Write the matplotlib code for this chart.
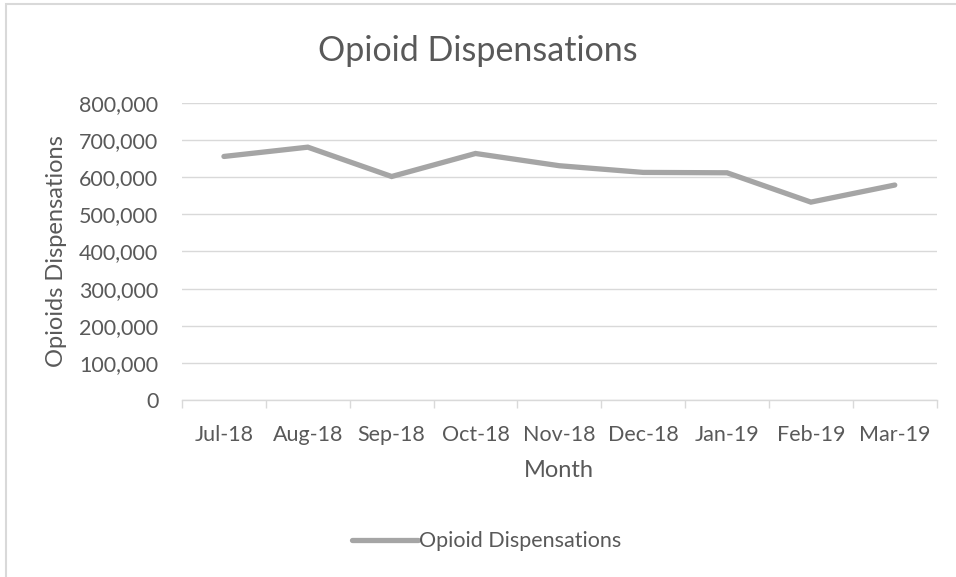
import matplotlib.pyplot as plt
import matplotlib.ticker as mticker
from matplotlib.patches import Rectangle
import numpy as np

plt.rcParams['font.family'] = ['Lato', 'DejaVu Sans']

months = ['Jul-18', 'Aug-18', 'Sep-18', 'Oct-18', 'Nov-18', 'Dec-18', 'Jan-19', 'Feb-19', 'Mar-19']
dispensations = [656000, 681000, 602000, 664000, 631000, 613000, 612000, 533000, 579000]

text_color = '#595959'
grid_color = '#D9D9D9'
line_color = '#A5A5A5'

fig = plt.figure(figsize=(9.56, 5.77), dpi=100)
ax = fig.add_axes([0.1904, 0.3068, 0.7894, 0.5147])

x = np.arange(len(months))
ax.plot(x, dispensations, color=line_color, linewidth=3.8, solid_capstyle='round',
        solid_joinstyle='miter', label='Opioid Dispensations', zorder=3)

ax.set_xlim(-0.5, len(months) - 0.5)
ax.set_ylim(0, 800000)
ax.yaxis.set_major_locator(mticker.MultipleLocator(100000))
ax.yaxis.set_major_formatter(mticker.FuncFormatter(lambda v, p: f'{int(v):,}'))
ax.set_xticks(x)
ax.set_xticklabels(months)
ax.set_xticks(np.arange(-0.5, len(months)), minor=True)
ax.tick_params(axis='x', which='major', length=0, pad=18, labelsize=15.5, labelcolor=text_color)
ax.tick_params(axis='x', which='minor', length=6, width=1, color=grid_color, direction='out')
ax.tick_params(axis='y', length=0, pad=17, labelsize=15.5, labelcolor=text_color)

ax.grid(axis='y', color=grid_color, linewidth=1)
ax.set_axisbelow(True)
for s in ['top', 'right', 'left']:
    ax.spines[s].set_visible(False)
ax.spines['bottom'].set_color(grid_color)
ax.spines['bottom'].set_linewidth(1)

ax.set_xlabel('Month', fontsize=17, color=text_color, labelpad=11)
ax.set_ylabel('Opioids Dispensations', fontsize=17, color=text_color)
ax.yaxis.set_label_coords(-0.152, 0.5)

fig.text(0.5, 0.912, 'Opioid Dispensations', ha='center', va='center', fontsize=24.5, color=text_color)

leg = fig.legend(loc='center', bbox_to_anchor=(0.509, 0.062), frameon=False, fontsize=15.5,
                 handlelength=3.1, handletextpad=0.05, labelcolor=text_color)

# chart frame (runs off the right and bottom edges)
fig.patches.append(Rectangle((6 / 956, -0.05), 1.2, 1 - 4 / 577 + 0.05, transform=fig.transFigure,
                             fill=False, edgecolor=grid_color, linewidth=1.5))

fig.savefig('out.png', dpi=100)
